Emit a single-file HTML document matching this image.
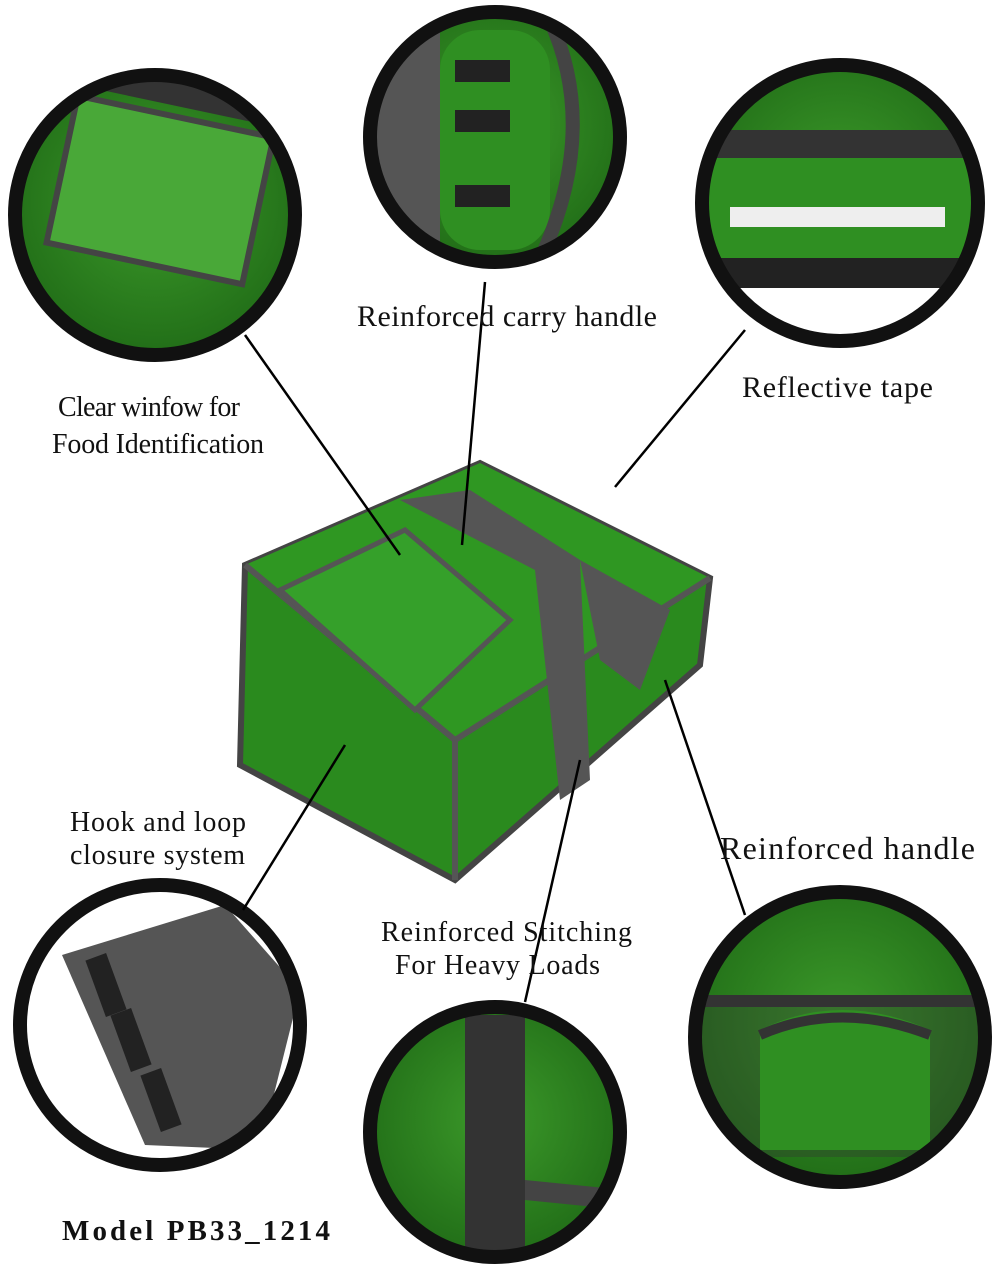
<!DOCTYPE html>
<html><head><meta charset="utf-8"><style>
body{margin:0;background:#fff}
svg text{font-family:"Liberation Serif",serif;fill:#111}
</style></head><body>
<svg width="995" height="1280" viewBox="0 0 995 1280" xmlns="http://www.w3.org/2000/svg">
<defs>
<radialGradient id="g" cx="50%" cy="45%" r="60%"><stop offset="0" stop-color="#3c9a2a"/><stop offset="1" stop-color="#1f6a16"/></radialGradient>
<clipPath id="c1"><circle cx="155" cy="215" r="140"/></clipPath>
<clipPath id="c2"><circle cx="495" cy="137" r="125"/></clipPath>
<clipPath id="c3"><circle cx="840" cy="203" r="138"/></clipPath>
<clipPath id="c4"><circle cx="160" cy="1025" r="140"/></clipPath>
<clipPath id="c5"><circle cx="495" cy="1132" r="125"/></clipPath>
<clipPath id="c6"><circle cx="840" cy="1037" r="145"/></clipPath>
</defs>
<!-- circle 1 -->
<g clip-path="url(#c1)">
<circle cx="155" cy="215" r="140" fill="url(#g)"/>
<rect x="60" y="115" width="200" height="150" fill="#49a838" stroke="#444" stroke-width="6" transform="rotate(12 160 190)"/>
<rect x="0" y="70" width="300" height="30" fill="#333" transform="rotate(12 150 85)"/>
</g>
<circle cx="155" cy="215" r="140" fill="none" stroke="#111" stroke-width="14"/>
<!-- circle 2 -->
<g clip-path="url(#c2)">
<circle cx="495" cy="137" r="125" fill="url(#g)"/>
<rect x="370" y="10" width="70" height="250" fill="#555"/>
<rect x="440" y="30" width="110" height="220" rx="40" fill="#2f8f22"/>
<path d="M550 20 Q600 130 540 260" stroke="#444" stroke-width="14" fill="none"/>
<rect x="455" y="60" width="55" height="22" fill="#222"/><rect x="455" y="110" width="55" height="22" fill="#222"/><rect x="455" y="185" width="55" height="22" fill="#222"/>
</g>
<circle cx="495" cy="137" r="125" fill="none" stroke="#111" stroke-width="14"/>
<!-- circle 3 -->
<g clip-path="url(#c3)">
<circle cx="840" cy="203" r="138" fill="url(#g)"/>
<rect x="700" y="130" width="280" height="28" fill="#333"/>
<rect x="700" y="158" width="280" height="100" fill="#2f8f22"/>
<rect x="730" y="207" width="215" height="20" fill="#eee"/>
<rect x="700" y="258" width="280" height="30" fill="#222"/>
<rect x="700" y="288" width="280" height="60" fill="#fff"/>
</g>
<circle cx="840" cy="203" r="138" fill="none" stroke="#111" stroke-width="14"/>
<!-- circle 4 -->
<g clip-path="url(#c4)">
<circle cx="160" cy="1025" r="140" fill="#fff"/>
<polygon points="62,955 225,905 300,990 260,1150 145,1145" fill="#555"/>
<rect x="95" y="955" width="22" height="60" fill="#222" transform="rotate(-20 106 985)"/><rect x="120" y="1010" width="22" height="60" fill="#222" transform="rotate(-20 131 1040)"/><rect x="150" y="1070" width="22" height="60" fill="#222" transform="rotate(-20 161 1100)"/>
</g>
<circle cx="160" cy="1025" r="140" fill="none" stroke="#111" stroke-width="14"/>
<!-- circle 5 -->
<g clip-path="url(#c5)">
<circle cx="495" cy="1132" r="125" fill="url(#g)"/>
<rect x="465" y="1015" width="60" height="245" fill="#333"/>
<path d="M525 1180 L625 1190 L625 1210 L525 1200 Z" fill="#444"/>
</g>
<circle cx="495" cy="1132" r="125" fill="none" stroke="#111" stroke-width="14"/>
<!-- circle 6 -->
<g clip-path="url(#c6)">
<circle cx="840" cy="1037" r="145" fill="url(#g)"/>
<rect x="690" y="995" width="300" height="12" fill="#333"/>
<rect x="690" y="1007" width="300" height="150" fill="#333" opacity=".35"/>
<path d="M760 1030 Q840 990 930 1030 L930 1150 L760 1150 Z" fill="#2f8f22"/>
<path d="M760 1035 Q840 1000 930 1035" stroke="#333" stroke-width="10" fill="none"/>
</g>
<circle cx="840" cy="1037" r="145" fill="none" stroke="#111" stroke-width="14"/>
<!-- bag -->
<polygon points="245,565 480,463 710,578 700,665 455,880 240,765" fill="#2a8a1e" stroke="#444" stroke-width="6"/>
<polygon points="245,565 480,463 710,578 455,740" fill="#2f9722"/>
<polyline points="245,565 455,740 710,578" fill="none" stroke="#555" stroke-width="6"/>
<line x1="455" y1="740" x2="455" y2="880" stroke="#555" stroke-width="6"/>
<polygon points="280,590 405,530 510,620 415,710" fill="#35a02a" stroke="#555" stroke-width="5"/>
<polygon points="400,500 470,490 580,560 590,780 560,800 535,570" fill="#555"/>
<polygon points="580,560 670,610 640,690 600,660" fill="#555"/>
<!-- lines -->
<g stroke="#000" stroke-width="2.5">
<line x1="245" y1="335" x2="400" y2="555"/>
<line x1="485" y1="282" x2="462" y2="545"/>
<line x1="745" y1="330" x2="615" y2="487"/>
<line x1="243" y1="910" x2="345" y2="745"/>
<line x1="525" y1="1002" x2="580" y2="760"/>
<line x1="745" y1="915" x2="665" y2="680"/>
</g>
<text x="357" y="326" font-size="30" textLength="300">Reinforced carry handle</text>
<text x="742" y="397" font-size="30" textLength="191">Reflective tape</text>
<text x="58" y="416" font-size="28" textLength="182">Clear winfow for</text>
<text x="52" y="453" font-size="28" textLength="212">Food Identification</text>
<text x="70" y="831" font-size="28" textLength="176">Hook and loop</text>
<text x="70" y="864" font-size="28" textLength="175">closure system</text>
<text x="720" y="859" font-size="32" textLength="255">Reinforced handle</text>
<text x="381" y="941" font-size="28" textLength="251">Reinforced Stitching</text>
<text x="395" y="974" font-size="28" textLength="205">For Heavy Loads</text>
<text x="62" y="1240" font-size="29" font-weight="bold" textLength="268">Model PB33_1214</text>
</svg>
</body></html>
